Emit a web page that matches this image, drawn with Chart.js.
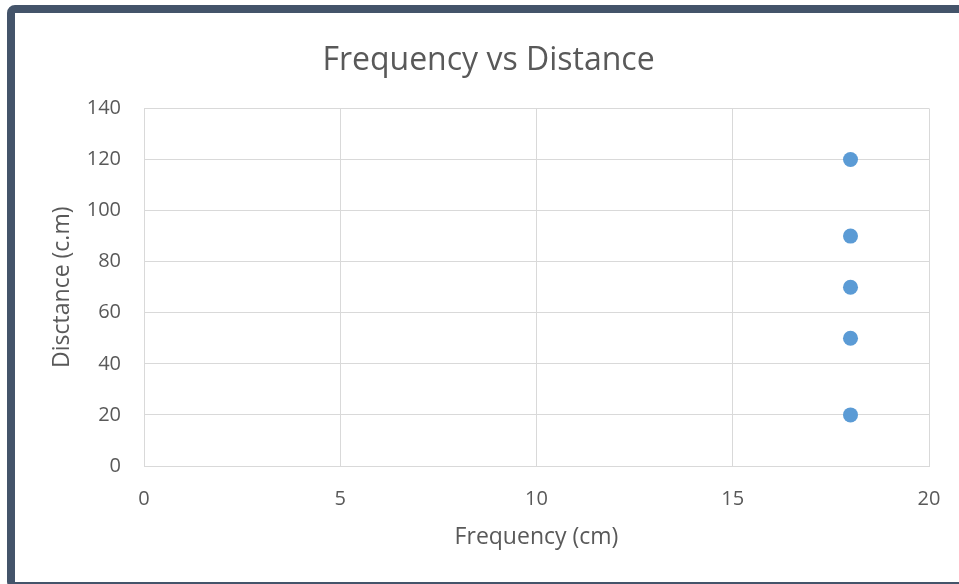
<!DOCTYPE html>
<html lang="en">
<head>
    <meta charset="UTF-8">
    <title>Frequency vs Distance</title>
    <style>
        body {
            margin: 0;
            background-color: #ffffff;
            overflow: hidden;
        }
        #chartContainer {
            position: relative;
            width: 959px;
            height: 584px;
            overflow: hidden;
        }
        #frame {
            position: absolute;
            left: 7px;
            top: 5px;
            width: 1000px;
            height: 569px;
            border: 8px solid #44546a;
            border-radius: 8px;
            pointer-events: none;
        }
        canvas {
            position: absolute;
            left: 0;
            top: 0;
        }
    </style>
</head>
<body>

    <div id="chartContainer">
        <canvas id="freqChart" width="959" height="584"></canvas>
        <div id="frame"></div>
    </div>

    <script src="https://cdn.jsdelivr.net/npm/chart.js"></script>
    <script>
        // values
        const frequency = [18, 18, 18, 18, 18];
        const distance = [120, 90, 70, 50, 20];
        const xTicks = [0, 5, 10, 15, 20];
        const yTicks = [0, 20, 40, 60, 80, 100, 120, 140];

        const points = frequency.map((f, i) => ({ x: f, y: distance[i] }));

        const textColor = '#595959';
        const gridColor = '#d9d9d9';
        const font = "'Open Sans', sans-serif";

        const ctx = document.getElementById('freqChart').getContext('2d');

        new Chart(ctx, {
            type: 'scatter',
            data: {
                datasets: [{
                    label: 'Distance',
                    data: points,
                    backgroundColor: '#5b9bd5',
                    borderWidth: 0,
                    pointRadius: 7.5,
                    pointHoverRadius: 7.5
                }]
            },
            options: {
                responsive: false,
                animation: false,
                layout: {
                    padding: { left: 48, right: 30, top: 14, bottom: 20 }
                },
                plugins: {
                    legend: { display: false },
                    tooltip: { enabled: false },
                    title: {
                        display: true,
                        text: 'Frequency vs Distance',
                        color: textColor,
                        font: { family: font, size: 32, weight: 'normal' },
                        padding: { top: 28, bottom: 28 }
                    }
                },
                scales: {
                    x: {
                        type: 'linear',
                        min: xTicks[0],
                        max: xTicks[xTicks.length - 1],
                        afterBuildTicks: (scale) => {
                            scale.ticks = xTicks.map(v => ({ value: v }));
                        },
                        afterFit: (scale) => {
                            scale.height = 98;
                            scale.paddingLeft = 0;
                            scale.paddingRight = 0;
                        },
                        grid: { color: gridColor, drawTicks: false },
                        border: { color: gridColor },
                        ticks: {
                            color: textColor,
                            padding: 21,
                            font: { family: font, size: 20 }
                        },
                        title: {
                            display: true,
                            text: 'Frequency (cm)',
                            color: textColor,
                            font: { family: font, size: 23 },
                            padding: { top: 0, bottom: 13 }
                        }
                    },
                    y: {
                        type: 'linear',
                        min: yTicks[0],
                        max: yTicks[yTicks.length - 1],
                        afterBuildTicks: (scale) => {
                            scale.ticks = yTicks.map(v => ({ value: v }));
                        },
                        afterFit: (scale) => { scale.width = 96; },
                        grid: { color: gridColor, drawTicks: false },
                        border: { color: gridColor },
                        ticks: {
                            color: textColor,
                            padding: 23,
                            font: { family: font, size: 20 }
                        },
                        title: {
                            display: true,
                            text: 'Disctance (c.m)',
                            color: textColor,
                            font: { family: font, size: 23 },
                            padding: { top: 1, bottom: 0 }
                        }
                    }
                }
            }
        });
    </script>

</body>
</html>
